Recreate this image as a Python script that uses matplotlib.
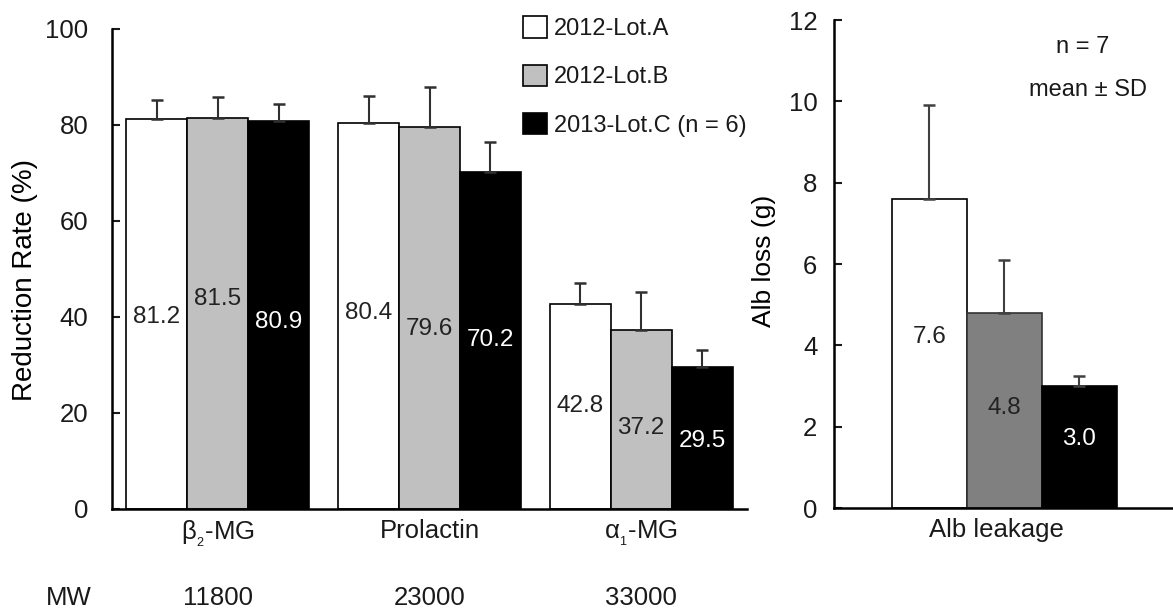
import matplotlib
matplotlib.use("Agg")
import matplotlib.pyplot as plt
import numpy as np

plt.rcParams['font.family'] = ['Liberation Sans', 'DejaVu Sans']
plt.rcParams['mathtext.fontset'] = 'custom'
plt.rcParams['mathtext.rm'] = 'Liberation Sans'
plt.rcParams['mathtext.it'] = 'Liberation Sans'
plt.rcParams['text.color'] = '#1a1a1a'
plt.rcParams['xtick.color'] = '#1a1a1a'
plt.rcParams['ytick.color'] = '#1a1a1a'

# ---- data ----
categories = ["β$_\\mathregular{_2}$-MG", "Prolactin", "α$_\\mathregular{_1}$-MG"]
mw_values = ["11800", "23000", "33000"]
series_names = ["2012-Lot.A", "2012-Lot.B", "2013-Lot.C (n = 6)"]
lotA = [81.2, 80.4, 42.8]
lotB = [81.5, 79.6, 37.2]
lotC = [80.9, 70.2, 29.5]
lotA_sd = [4.0, 5.6, 4.3]
lotB_sd = [4.3, 8.3, 8.0]
lotC_sd = [3.5, 6.2, 3.6]
label_pos_A = [40.0, 40.8, 21.5]
label_pos_B = [43.7, 37.5, 16.9]
label_pos_C = [39.0, 35.2, 14.2]

alb_category = ["Alb leakage"]
alb_values = [7.6, 4.8, 3.0]
alb_sd = [2.3, 1.3, 0.25]
alb_label_pos = [4.2, 2.45, 1.7]

BIG = 18.5
fig = plt.figure(figsize=(11.73, 6.13), dpi=100)

# ---- left panel ----
ax = fig.add_axes([112/1173, 1-509/613, 635/1173, 480/613])
w = 0.288
x = np.arange(len(categories))
colors = ["white", "#c0c0c0", "black"]
txtcol = ["#222222", "#222222", "white"]
vals = [lotA, lotB, lotC]
sds = [lotA_sd, lotB_sd, lotC_sd]
lpos = [label_pos_A, label_pos_B, label_pos_C]
handles = []
for i in range(3):
    xs = x + (i - 1) * w
    b = ax.bar(xs, vals[i], w, color=colors[i], edgecolor="black", linewidth=1.2,
               yerr=[np.zeros(3), sds[i]], error_kw=dict(ecolor="#303030", elinewidth=1.5,
                                                      capsize=4, capthick=1.8), zorder=2)
    handles.append(b)
    for xx, v, ly in zip(xs, vals[i], lpos[i]):
        ax.text(xx, ly, f"{v:.1f}", ha="center", va="center", fontsize=17.5, color=txtcol[i], zorder=3)

ax.set_xlim(-0.5, 2.5)
ax.set_ylim(0, 100)
ax.set_yticks([0, 20, 40, 60, 80, 100])
ax.tick_params(axis='y', direction='in', length=6, width=1.5, labelsize=BIG, pad=17)
ax.tick_params(axis='x', length=0, labelsize=BIG, pad=7)
ax.set_xticks(x)
ax.set_xticklabels(categories)
for s in ["top", "right"]:
    ax.spines[s].set_visible(False)
for s in ["left", "bottom"]:
    ax.spines[s].set_linewidth(1.8)
ax.set_ylabel("Reduction Rate (%)", fontsize=20)
ax.yaxis.set_label_coords(-(112-38)/635, (509-280)/480)

# MW row
fig.text(69/1173, 1-598/613, "MW", ha="center", va="center", fontsize=BIG)
for xx, m in zip(x, mw_values):
    ax.annotate(m, xy=(xx, 0), xycoords=("data", "axes fraction"),
                xytext=(0, -89), textcoords="offset pixels", ha="center", va="center", fontsize=BIG)

fig.legend(handles=[h.patches[0] for h in handles], labels=series_names,
           loc="upper left", bbox_to_anchor=(514/1173, 1-7/613), frameon=False,
           fontsize=17, handlelength=1.0, handleheight=1.0, handletextpad=0.3,
           labelspacing=1.04, borderaxespad=0)

# ---- right panel ----
ax2 = fig.add_axes([834/1173, 1-508/613, 339/1173, 488/613])
ax2_colors = ["white", "#808080", "black"]
ax2_txt = ["#222222", "#222222", "white"]
xr = np.array([-1, 0, 1])
ax2.bar(xr, alb_values, 1.0, color=ax2_colors, edgecolor=["black", "#333333", "black"], linewidth=1.2,
        yerr=[np.zeros(3), alb_sd], error_kw=dict(ecolor="#404040", elinewidth=1.5,
                                                capsize=4, capthick=1.8), zorder=2)
for xx, v, ly, c in zip(xr, alb_values, alb_label_pos, ax2_txt):
    ax2.text(xx, ly, f"{v:.1f}", ha="center", va="center", fontsize=17.5, color=c, zorder=3)
ax2.set_xlim(-2.27, 2.25)
ax2.set_ylim(0, 12)
ax2.set_yticks([0, 2, 4, 6, 8, 10, 12])
ax2.tick_params(axis='y', direction='in', length=6, width=1.5, labelsize=BIG, pad=12)
ax2.set_xticks([-0.1])
ax2.set_xticklabels(alb_category)
ax2.tick_params(axis='x', length=0, labelsize=BIG, pad=7)
for s in ["top", "right"]:
    ax2.spines[s].set_visible(False)
for s in ["left", "bottom"]:
    ax2.spines[s].set_linewidth(1.8)
ax2.set_ylabel("Alb loss (g)", fontsize=19)
ax2.yaxis.set_label_coords(-(834-776)/339, (508-261)/488)
ax2.text(0.735, 0.945, "n = 7", transform=ax2.transAxes, ha="center", va="center", fontsize=17)
ax2.text(0.749, 0.857, "mean ± SD", transform=ax2.transAxes, ha="center", va="center", fontsize=17)

fig.savefig("out.png", dpi=100)
